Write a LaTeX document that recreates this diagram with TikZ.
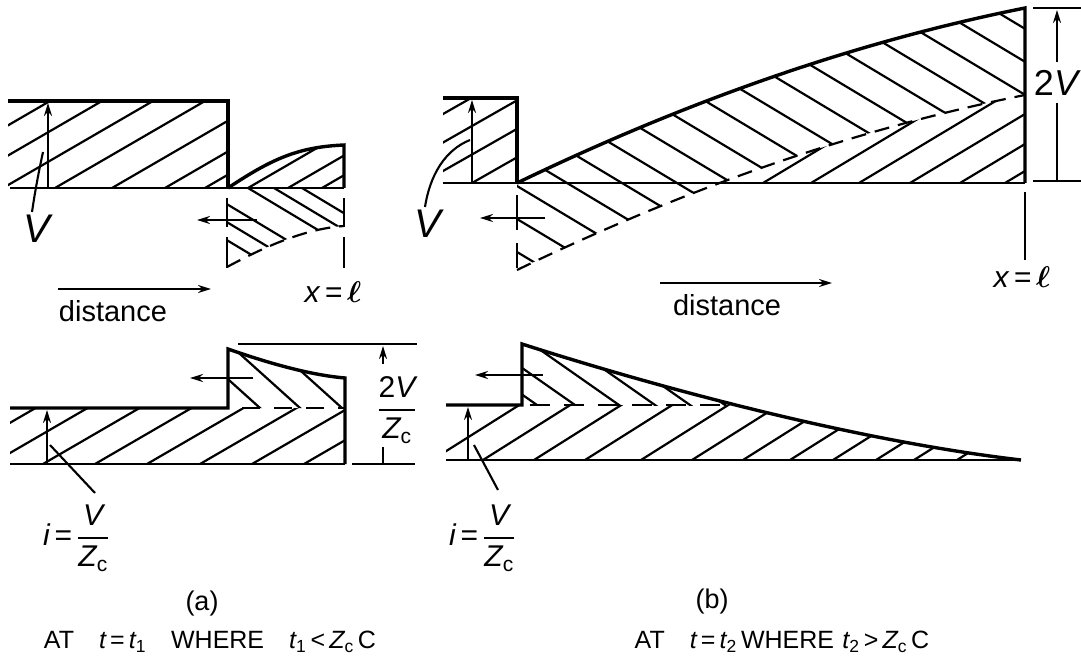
\documentclass[tikz,border=0pt]{standalone}
\usepackage{fix-cm}
\usepackage{amsmath}
\usepackage{fontspec}
\setmainfont{Liberation Sans}
\usetikzlibrary{arrows.meta}
\newcommand\hup[3]{\foreach \a in {#3} \draw[htch] ({\a-300},{#1+300*#2}) -- ({\a+300},{#1-300*#2});}
\newcommand\hdn[3]{\foreach \a in {#3} \draw[htch] ({\a-300},{#1-300*#2}) -- ({\a+300},{#1+300*#2});}
\newcommand\myfr[2]{$\genfrac{}{}{2.2pt}{0}{\mbox{#1}}{\mbox{#2}}$}
\begin{document}
\begin{tikzpicture}[x=1pt,y=-1pt,
  outl/.style={line width=3.4pt, line join=miter, line cap=butt},
  bse/.style={line width=2.8pt},
  tln/.style={line width=2.1pt},
  htch/.style={line width=2.2pt},
  dsh/.style={line width=2.2pt, dash pattern=on 15pt off 9pt},
  arw/.style={line width=2.1pt, -{Stealth[length=13pt,width=8pt]}},
  lab/.style={inner sep=0pt, anchor=center},
  fV/.style={font=\fontsize{40}{44}\selectfont\itshape},
  fD/.style={font=\fontsize{29}{33}\selectfont},
  fX/.style={font=\fontsize{30}{34}\selectfont},
  fF/.style={font=\fontsize{30}{34}\selectfont},
  fC/.style={font=\fontsize{25}{30}\selectfont},
]
\useasboundingbox (0,0) rectangle (1081,668);

% ================= TOP LEFT =================
\begin{scope}
  \clip (8,101) rectangle (228,188);
  \hup{188}{0.58}{-100,-48,3,55,112,165,205}
\end{scope}
\begin{scope}
  \clip (228,188) .. controls (273,158) and (299,147) .. (344,145) -- (344,188) -- cycle;
  \hup{188}{0.58}{248,288,322}
\end{scope}
\begin{scope}
  \clip (227,188) -- (344,188) -- (344,226) .. controls (300,229) and (255,252) .. (227,267) -- cycle;
  \hdn{188}{0.6}{140,170,200,248,274,302}
\end{scope}
\draw[outl] (8,101) -- (228,101) -- (228,188);
\draw[outl] (228,188) .. controls (273,158) and (299,147) .. (344,145) -- (344,188);
\draw[bse] (10,188) -- (344,188);
\draw[dsh] (227,267) .. controls (255,252) and (300,229) .. (344,226);
\draw[tln] (227,198) -- (227,227) (227,237) -- (227,268);
\draw[tln] (344,198) -- (344,227) (344,237) -- (344,268);
\coordinate (tlA1) at (257,220); \coordinate (tlA2) at (197,220);
\draw[arw] (tlA1) -- (tlA2);
\coordinate (tlV0) at (48,188); \coordinate (tlV1) at (48,103);
\draw[arw] (tlV0) -- (tlV1);
\node[lab,fV] (tlV) at (37,229) {V};
\coordinate (tlL) at (43,152);
\draw[tln] (32,212) .. controls (36,185) and (40,166) .. (tlL);
\coordinate (tlD1) at (58,289); \coordinate (tlD2) at (211,289);
\draw[arw] (tlD1) -- (tlD2);
\node[lab,fD] (tlDist) at (113,311) {distance};
\node[lab,fX] (tlX) at (333,292) {\itshape x\,=\,$\boldsymbol{\ell}$};

% ================= TOP RIGHT =================
\begin{scope}
  \clip (443,98) rectangle (517,183);
  \hup{183}{0.57}{322,372,422,472}
\end{scope}
\begin{scope}
  \clip (517,183) .. controls (687,101) and (855,42) .. (1025,8) -- (1025,95)
        .. controls (855,129) and (687,188) .. (517,270) -- cycle;
  \hdn{183}{0.6}{402,457,...,1330}
\end{scope}
\begin{scope}
  \clip (517,270) .. controls (687,188) and (855,129) .. (1025,95) -- (1025,183) -- (517,183) -- cycle;
  \clip (500,0) rectangle (1030,183);
  \hup{183}{0.6}{763,811,859,910,960,1005}
\end{scope}
\draw[outl] (443,98) -- (517,98) -- (517,183);
\draw[outl] (517,183) .. controls (687,101) and (855,42) .. (1025,8) -- (1025,183);
\draw[bse] (443,183) -- (1025,183);
\draw[dsh] (517,270) .. controls (687,188) and (855,129) .. (1025,95);
\draw[tln] (517,195) -- (517,230) (517,243) -- (517,268);
\coordinate (trA1) at (545,218); \coordinate (trA2) at (480,218);
\draw[arw] (trA1) -- (trA2);
\coordinate (trV0) at (472,183); \coordinate (trV1) at (472,100);
\draw[arw] (trV0) -- (trV1);
\node[lab,fV] (trV) at (428,224) {V};
\coordinate (trL) at (470,140);
\draw[tln] (425,207) .. controls (430,175) and (445,150) .. (trL);
\draw[tln] (1025,192) -- (1025,260);
\node[lab,fX] (trX) at (1022,277) {\itshape x\,=\,$\boldsymbol{\ell}$};
\draw[tln] (1033,8) -- (1081,8) (1033,181) -- (1081,181);
\coordinate (trT0) at (1057,62); \coordinate (trT1) at (1057,10);
\draw[arw] (trT0) -- (trT1);
\draw[tln] (1057,103) -- (1057,181);
\node[lab,font=\fontsize{36}{40}\selectfont] (tr2V) at (1056,83) {2{\itshape V}};
\coordinate (trD1) at (660,283); \coordinate (trD2) at (832,283);
\draw[arw] (trD1) -- (trD2);
\node[lab,fD] (trDist) at (727,305) {distance};

% ================= BOTTOM LEFT =================
\begin{scope}
  \clip (10,408) rectangle (345,464);
  \hup{464}{0.58}{-61,-9,43,95,147,200,252,304}
\end{scope}
\begin{scope}
  \clip (228,408) -- (228,349) .. controls (268,363) and (310,375) .. (345,378) -- (345,408) -- cycle;
  \hdn{408}{0.9}{220,260,300,342,382}
\end{scope}
\draw[outl] (10,408) -- (228,408) -- (228,349) .. controls (268,363) and (310,375) .. (345,378) -- (345,464);
\draw[bse] (10,464) -- (345,464);
\draw[dsh, dash pattern=on 18pt off 14pt, dash phase=-14pt] (228,408) -- (345,408);
\coordinate (blA1) at (253,378); \coordinate (blA2) at (190,378);
\draw[arw] (blA1) -- (blA2);
\coordinate (blI0) at (47,464); \coordinate (blI1) at (47,410);
\draw[arw] (blI0) -- (blI1);
\node[lab,fF] (blI) at (76,538) {{\itshape i}\,=\,\myfr{\itshape V}{{\itshape Z}\textsubscript{c}}};
\draw[tln] (50,445) -- (95,493);
\draw[tln] (238,344) -- (417,344) (352,464) -- (415,464);
\coordinate (blT0) at (383,364); \coordinate (blT1) at (383,346);
\draw[arw] (blT0) -- (blT1);
\draw[tln] (383,447) -- (383,463);
\node[lab,fF] (bl2V) at (397,410) {\myfr{2{\itshape V}}{{\itshape Z}\textsubscript{c}}};

% ================= BOTTOM RIGHT =================
\def\brshape{(446,405) -- (522,405) -- (522,344) .. controls (650,385) and (850,440) .. (1021,460) -- (446,460) -- cycle}
\begin{scope}
  \clip \brshape;
  \clip (440,405) rectangle (1030,470);
  \hup{460}{0.63}{432,483,534,585,641,692,743,790,833,876,914,957}
\end{scope}
\begin{scope}
  \clip \brshape;
  \clip (440,330) rectangle (1030,405);
  \hdn{405}{0.7}{537,575,619,655,690,725}
\end{scope}
\draw[outl] (446,405) -- (522,405) -- (522,344) .. controls (650,385) and (850,440) .. (1021,460);
\draw[bse] (446,460) -- (1021,460);
\draw[dsh, dash pattern=on 20pt off 14pt, dash phase=-8pt] (522,405) -- (720,405);
\coordinate (brA1) at (543,375); \coordinate (brA2) at (475,375);
\draw[arw] (brA1) -- (brA2);
\coordinate (brI0) at (468,460); \coordinate (brI1) at (468,407);
\draw[arw] (brI0) -- (brI1);
\node[lab,fF] (brI) at (482,538) {{\itshape i}\,=\,\myfr{\itshape V}{{\itshape Z}\textsubscript{c}}};
\draw[tln] (474,445) -- (498,490);

% ================= CAPTIONS =================
\node[lab,font=\fontsize{27}{30}\selectfont] (capa) at (202,604) {(a)};
\node[lab,fC] (capA) at (210,642) {AT\quad{\itshape t}\,=\,{\itshape t}\textsubscript{1}\quad WHERE\quad {\itshape t}\textsubscript{1}\,<\,{\itshape Z}\textsubscript{c}\,C};
\node[lab,font=\fontsize{27}{30}\selectfont] (capb) at (712,602) {(b)};
\node[lab,fC] (capB) at (782,642) {AT\quad{\itshape t}\,=\,{\itshape t}\textsubscript{2}\,WHERE\,\,{\itshape t}\textsubscript{2}\,>\,{\itshape Z}\textsubscript{c}\,C};
\end{tikzpicture}
\end{document}
